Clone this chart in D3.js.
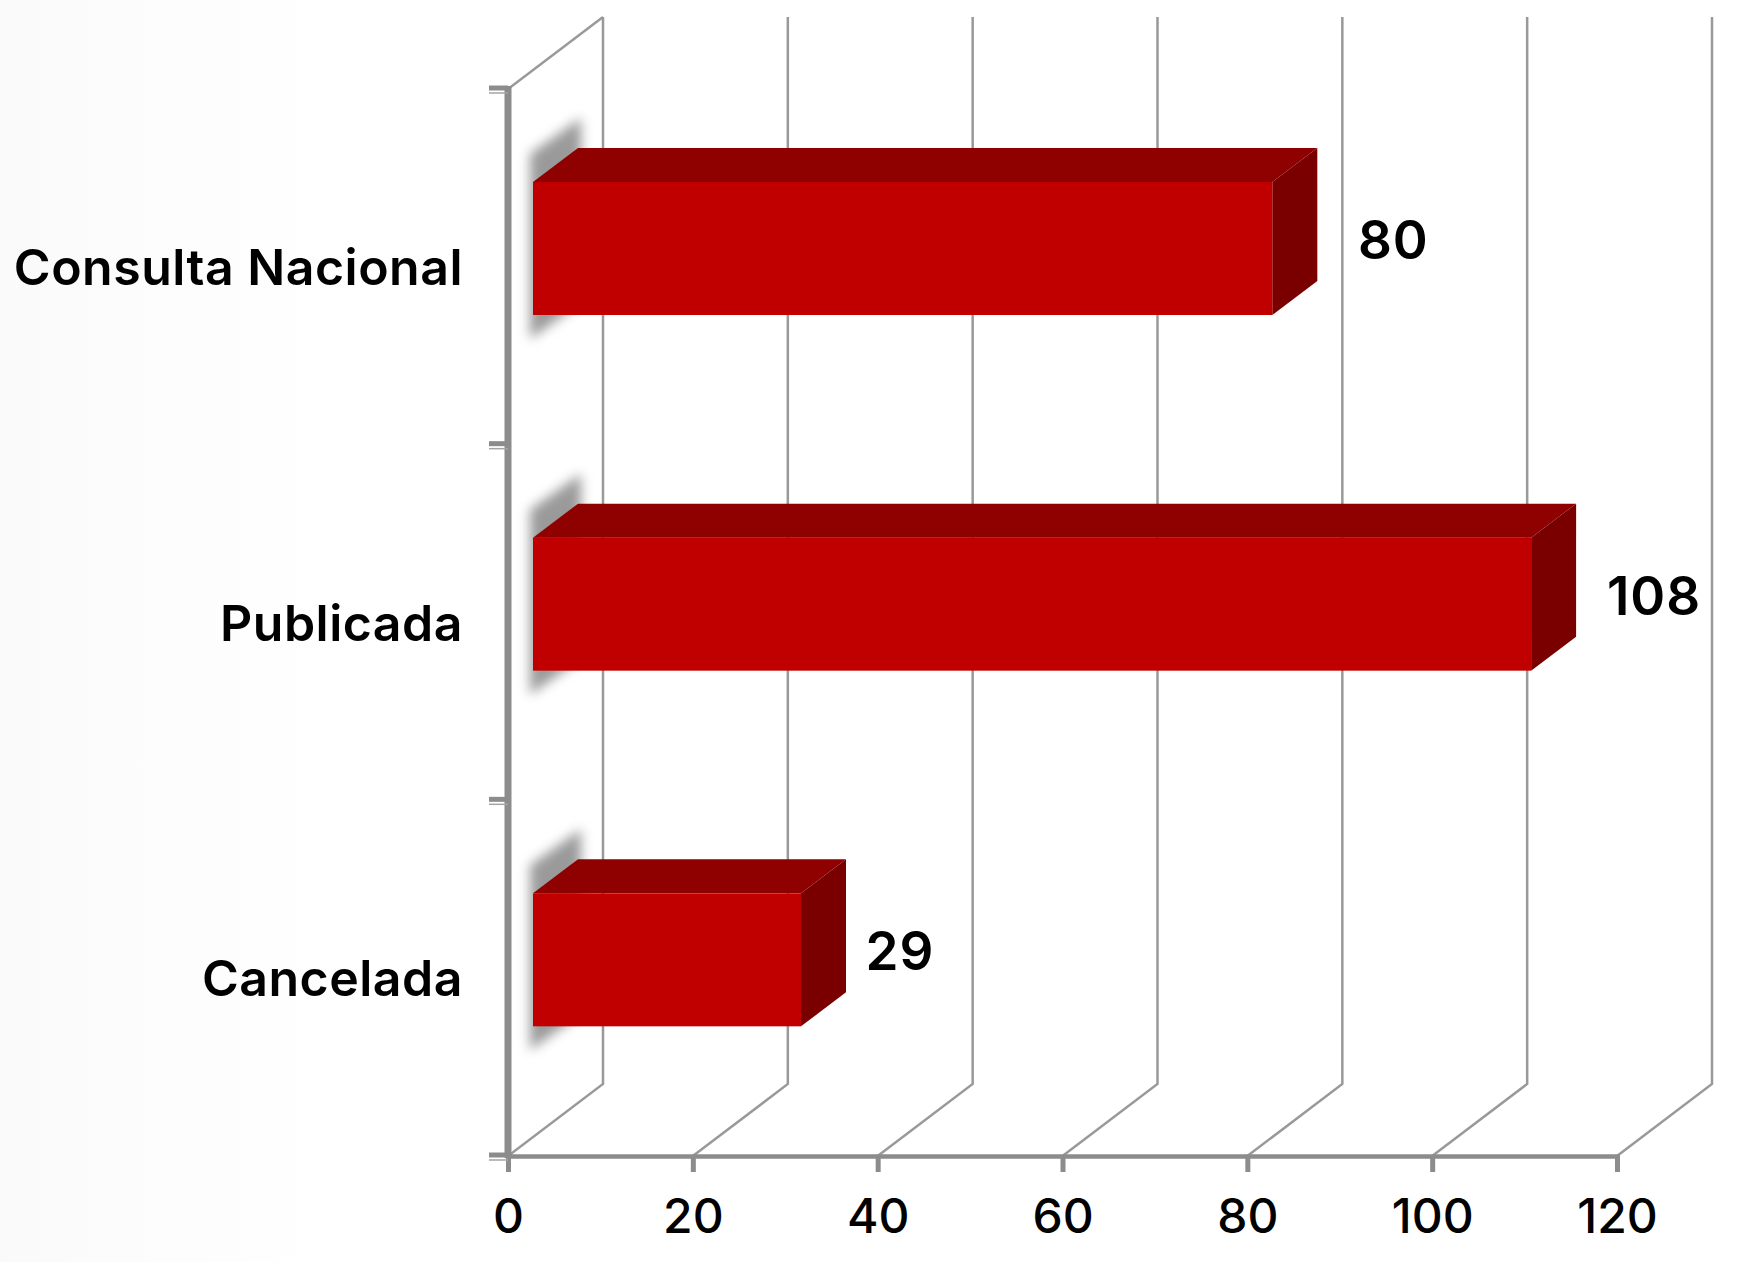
<!DOCTYPE html>
<html>
<head>
<meta charset="utf-8">
<script src="https://cdn.jsdelivr.net/npm/d3@7"></script>
<style>
  html, body { margin: 0; padding: 0; background: #fff; }
  svg { display: block; }
  text { font-family: Inter, "Open Sans", sans-serif; fill: #000; }
  .shadow { filter: blur(6px); }
</style>
</head>
<body>
<script>
const categories = ['Consulta Nacional', 'Publicada', 'Cancelada'];
const values = [80, 108, 29];
const xTicks = [0, 20, 40, 60, 80, 100, 120];

const width = 1737, height = 1262;

const svg = d3.select('body').append('svg')
  .attr('width', width)
  .attr('height', height);

const defs = svg.append('defs');

// faint grey wash on the left edge of the picture
const wash = defs.append('linearGradient').attr('id', 'wash');
wash.append('stop').attr('offset', 0).attr('stop-color', '#fafafa');
wash.append('stop').attr('offset', 1).attr('stop-color', '#ffffff');
svg.append('rect').attr('width', 340).attr('height', height).attr('fill', 'url(#wash)');

// Set up scales
const xScale = d3.scaleLinear().domain([0, 120]).range([508, 1617]);
const yScale = d3.scaleBand().domain(categories).range([89, 1156]);

const floorY = yScale.range()[1];
const topY = yScale.range()[0];
const wallDx = 95, wallDy = 72;     // depth of the back wall
const barDx = 45, barDy = 34;       // depth of a bar
const barLeft = 25, barTop = 93, barHeight = 133;
const labelDx = [121, 123, 99];     // centre of value label from bar end

// Back wall grid
const grid = svg.append('g')
  .attr('fill', 'none')
  .attr('stroke', '#999999')
  .attr('stroke-width', 2.5);

grid.selectAll('path')
  .data(xTicks)
  .join('path')
  .attr('d', d => `M${xScale(d)},${floorY}L${xScale(d) + wallDx},${floorY - wallDy}V${topY - wallDy}`);

grid.append('path')
  .attr('d', `M${xScale(0)},${topY}L${xScale(0) + wallDx},${topY - wallDy}`);

// Bars
const bars = svg.selectAll('g.bar')
  .data(categories)
  .join('g')
  .attr('class', 'bar')
  .attr('transform', d => `translate(0,${yScale(d) + barTop})`);

const x0 = xScale(0) + barLeft;

// soft shadow behind the left end of the bar
bars.append('path')
  .attr('class', 'shadow')
  .attr('d', `M${x0 - 3},-28L${x0 + barDx + 3},${-barDy - 30}V${barHeight - 30}L${x0 + barDx},${barHeight - 10}L${x0 - 3},${barHeight + 24}Z`)
  .attr('fill', '#9a9a9a');

const barEnd = (d, i) => xScale(values[i]) + barLeft;

bars.append('path')
  .attr('fill', '#8f0000')
  .attr('d', (d, i) => `M${x0},0L${x0 + barDx},${-barDy}H${barEnd(d, i) + barDx}L${barEnd(d, i)},0Z`);

bars.append('path')
  .attr('fill', '#7a0000')
  .attr('d', (d, i) => `M${barEnd(d, i)},0L${barEnd(d, i) + barDx},${-barDy}V${barHeight - barDy}L${barEnd(d, i)},${barHeight}Z`);

bars.append('rect')
  .attr('fill', '#c00000')
  .attr('x', x0)
  .attr('y', 0)
  .attr('width', (d, i) => barEnd(d, i) - x0)
  .attr('height', barHeight);

// Value labels
bars.append('text')
  .attr('x', (d, i) => barEnd(d, i) + labelDx[i])
  .attr('y', 77)
  .attr('text-anchor', 'middle')
  .attr('font-size', 53)
  .attr('font-weight', 600)
  .attr('letter-spacing', 1)
  .text((d, i) => values[i]);

// Axes
const xAxis = svg.append('g')
  .attr('transform', `translate(0,${floorY})`)
  .call(d3.axisBottom(xScale).tickValues(xTicks).tickSize(16).tickPadding(27).tickFormat(d3.format('d')));

xAxis.select('.domain').attr('stroke', '#8c8c8c').attr('stroke-width', 4.5);
xAxis.selectAll('.tick line').attr('stroke', '#8c8c8c').attr('stroke-width', 5);
xAxis.selectAll('.tick text')
  .attr('font-size', 48)
  .attr('font-family', 'Inter, sans-serif')
  .attr('font-weight', 500)
  .attr('fill', '#000');

const yEdges = [...categories.map(c => yScale(c)), floorY];
const yAxis = svg.append('g');

yAxis.append('line')
  .attr('x1', xScale(0)).attr('x2', xScale(0))
  .attr('y1', topY - 3).attr('y2', floorY + 2)
  .attr('stroke', '#8c8c8c').attr('stroke-width', 7);

yAxis.selectAll('line.major')
  .data(yEdges)
  .join('line')
  .attr('class', 'major')
  .attr('x1', 489).attr('x2', xScale(0))
  .attr('y1', d => d - 1).attr('y2', d => d - 1)
  .attr('stroke', '#8c8c8c').attr('stroke-width', 5);

yAxis.selectAll('line.minor')
  .data(yEdges)
  .join('line')
  .attr('class', 'minor')
  .attr('x1', 489).attr('x2', xScale(0))
  .attr('y1', d => d + 4).attr('y2', d => d + 4)
  .attr('stroke', '#a5a5a5').attr('stroke-width', 1.5);

// Category labels
svg.selectAll('text.cat')
  .data(categories)
  .join('text')
  .attr('class', 'cat')
  .attr('x', 463)
  .attr('y', d => yScale(d) + 196)
  .attr('text-anchor', 'end')
  .attr('font-size', 50)
  .attr('font-weight', 600)
  .attr('letter-spacing', 0.5)
  .text(d => d);
</script>
</body>
</html>
